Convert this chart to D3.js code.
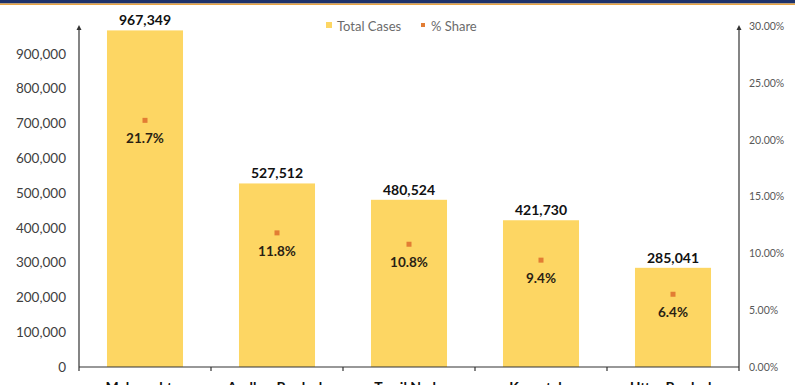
<!DOCTYPE html>
<html><head><meta charset="utf-8">
<script src="https://cdn.jsdelivr.net/npm/d3@7"></script>
<style>body{margin:0;background:#fff}svg{display:block}text{font-family:Lato,"Open Sans",sans-serif}</style>
</head><body><svg id="c" width="795" height="385"></svg>
<script>
const categories = ["Maharashtra","Andhra Pradesh","Tamil Nadu","Karnataka","Uttar Pradesh"];
const totalCases = [967349, 527512, 480524, 421730, 285041];
const shareValues = [0.217, 0.118, 0.108, 0.094, 0.064];
const shareLabels = ["21.7%","11.8%","10.8%","9.4%","6.4%"];
const leftTicks = [0,100000,200000,300000,400000,500000,600000,700000,800000,900000];
const rightTicks = [0,0.05,0.10,0.15,0.20,0.25,0.30];

const svg = d3.select("#c");
const x0 = 79, x1 = 739, yb = 367, yt = 26;
const x = d3.scaleBand().domain(categories).range([x0, x1]).paddingInner(0.424).paddingOuter(0.212);
const yL = d3.scaleLinear().domain([0, 980000]).range([yb, yt]);
const yR = d3.scaleLinear().domain([0, 0.30]).range([yb, yt]);

// top band
svg.append("rect").attr("x",0).attr("y",0).attr("width",795).attr("height",3.5).attr("fill","#1d326b");
svg.append("rect").attr("x",0).attr("y",3.5).attr("width",795).attr("height",1.5).attr("fill","#e9a441");

// bars
svg.selectAll(".bar").data(categories).enter().append("rect")
  .attr("x", d => x(d)).attr("width", x.bandwidth())
  .attr("y", (d,i) => yL(totalCases[i])).attr("height", (d,i) => yb - yL(totalCases[i]))
  .attr("fill", "#fdd663");

// value labels
svg.selectAll(".vl").data(categories).enter().append("text")
  .attr("x", d => x(d) + x.bandwidth()/2).attr("y", (d,i) => yL(totalCases[i]) - 5)
  .attr("text-anchor","middle").attr("font-size",14).attr("font-weight",700).attr("fill","#111")
  .text((d,i) => d3.format(",")(totalCases[i]));

// share dots
svg.selectAll(".dot").data(categories).enter().append("rect")
  .attr("x", d => x(d) + x.bandwidth()/2 - 2.5).attr("y", (d,i) => yR(shareValues[i]) - 2.5)
  .attr("width",5).attr("height",5).attr("fill","#e27d34");
svg.selectAll(".sl").data(categories).enter().append("text")
  .attr("x", d => x(d) + x.bandwidth()/2).attr("y", (d,i) => yR(shareValues[i]) + 23)
  .attr("text-anchor","middle").attr("font-size",13.5).attr("font-weight",700).attr("fill","#2a1f14")
  .text((d,i) => shareLabels[i]);

// left axis
const gL = svg.append("g").attr("transform",`translate(${x0},0)`)
  .call(d3.axisLeft(yL).tickValues(leftTicks).tickSize(0).tickPadding(13).tickFormat(d3.format(",")));
gL.select(".domain").remove();
gL.selectAll("text").attr("font-size",13.5).attr("fill","#404040").style("font-family","Lato,sans-serif");
svg.append("line").attr("x1",x0).attr("x2",x0).attr("y1",yt+2).attr("y2",yb).attr("stroke","#333").attr("stroke-width",1.2);
svg.append("path").attr("d",`M${x0-2.5},${yt+4}L${x0},${yt-1}L${x0+2.5},${yt+4}Z`).attr("fill","#333");

// right axis
const gR = svg.append("g").attr("transform",`translate(${x1},0)`)
  .call(d3.axisRight(yR).tickValues(rightTicks).tickSize(0).tickPadding(10).tickFormat(d3.format(".2%")));
gR.select(".domain").remove();
gR.selectAll("text").attr("font-size",10.5).attr("fill","#595959").style("font-family","Lato,sans-serif");
svg.append("line").attr("x1",x1).attr("x2",x1).attr("y1",yt+2).attr("y2",yb).attr("stroke","#333").attr("stroke-width",1.2);
svg.append("path").attr("d",`M${x1-2.5},${yt+4}L${x1},${yt-1}L${x1+2.5},${yt+4}Z`).attr("fill","#333");

// x axis
svg.append("line").attr("x1",x0).attr("x2",x1).attr("y1",yb).attr("y2",yb).attr("stroke","#333").attr("stroke-width",1.2);
const bounds = categories.map(d => x(d) - x.step()*x.paddingInner()/2).concat([x1]);
bounds[0] = x0;
svg.selectAll(".xt").data(bounds).enter().append("line")
  .attr("x1", d => d).attr("x2", d => d).attr("y1", yb).attr("y2", yb + 4)
  .attr("stroke","#333").attr("stroke-width",1.2);
svg.selectAll(".xl").data(categories).enter().append("text")
  .attr("x", d => x(d) + x.bandwidth()/2).attr("y", 392)
  .attr("text-anchor","middle").attr("font-size",14).attr("font-weight",700).attr("fill","#111")
  .text(d => d);

// legend
const leg = svg.append("g");
leg.append("rect").attr("x",326).attr("y",22).attr("width",6).attr("height",6).attr("fill","#fdd663");
leg.append("text").attr("x",337).attr("y",30.5).attr("font-size",13).attr("fill","#6b6b6b").text("Total Cases");
leg.append("rect").attr("x",421).attr("y",23).attr("width",4).attr("height",4).attr("fill","#e27d34");
leg.append("text").attr("x",431).attr("y",30.5).attr("font-size",13).attr("fill","#6b6b6b").text("% Share");
</script></body></html>
